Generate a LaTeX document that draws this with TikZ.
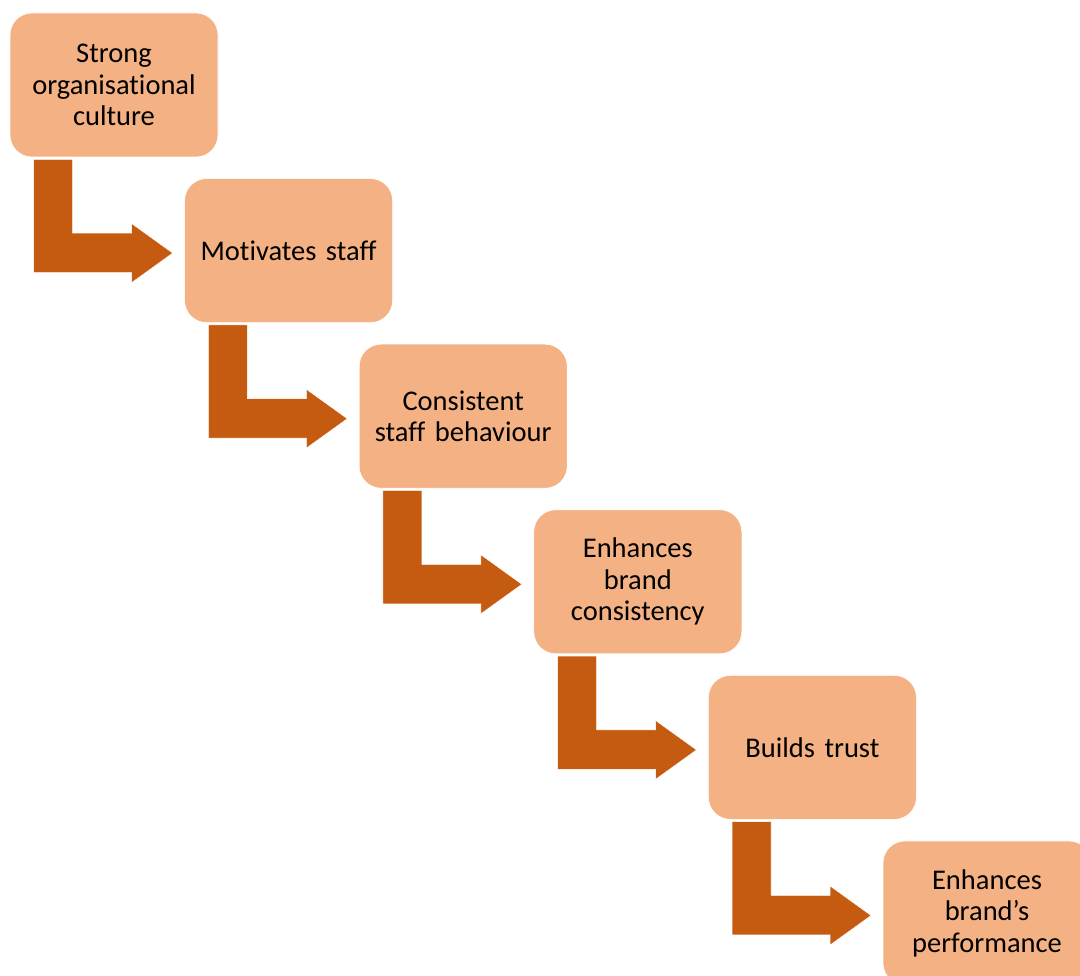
\documentclass[tikz,border=0pt]{standalone}
\usepackage{fontspec}
\setmainfont[Ligatures=NoCommon]{Carlito}
\usetikzlibrary{calc}
\definecolor{boxfill}{HTML}{F4B183}
\definecolor{arrowfill}{HTML}{C55A11}
\tikzset{
  stagebox/.style={rectangle, rounded corners=22pt, fill=boxfill, draw=white, line width=0.6pt,
    minimum width=208pt, minimum height=144pt, inner sep=0pt, text width=200pt, align=center,
    font=\fontsize{28.5pt}{31.5pt}\selectfont, text=black},
  bentarrow/.style={fill=arrowfill, draw=white, line width=0.5pt}
}
% bent block arrow from below one stage to the left side of the next
\newcommand\stagearrow[2]{%
  \path[bentarrow] let \p1=(#1.south west), \p2=(#2.west),
      \n1={\x2-11.6pt}, \n2={\y2-2.5pt}, \n3={\x2-52.6pt} in
    (\x1+24pt,\y1-2pt) -- (\x1+63pt,\y1-2pt) -- (\x1+63pt,\n2+20pt)
    -- (\n3,\n2+20pt) -- (\n3,\n2+29.5pt) -- (\n1,\n2) -- (\n3,\n2-29.5pt)
    -- (\n3,\n2-19.5pt) -- (\x1+24pt,\n2-19.5pt) -- cycle;}
\begin{document}
\begin{tikzpicture}[x=1pt,y=1pt]
  \useasboundingbox (0,0) rectangle (1080,976);
  \clip (0,0) rectangle (1080,976);
  \node[stagebox] (s1) at (114,891) {Strong\\organisational\\culture};
  \node[stagebox] (s2) at (288.6,725.4) {Motivates staff};
  \node[stagebox] (s3) at (463.2,559.8) {Consistent\\staff behaviour};
  \node[stagebox] (s4) at (637.8,394.2) {Enhances\\brand\\consistency};
  \node[stagebox] (s5) at (812.4,228.6) {Builds trust};
  \node[stagebox] (s6) at (987,63) {Enhances\\brand’s\\performance};
  \stagearrow{s1}{s2}
  \stagearrow{s2}{s3}
  \stagearrow{s3}{s4}
  \stagearrow{s4}{s5}
  \stagearrow{s5}{s6}
\end{tikzpicture}
\end{document}
